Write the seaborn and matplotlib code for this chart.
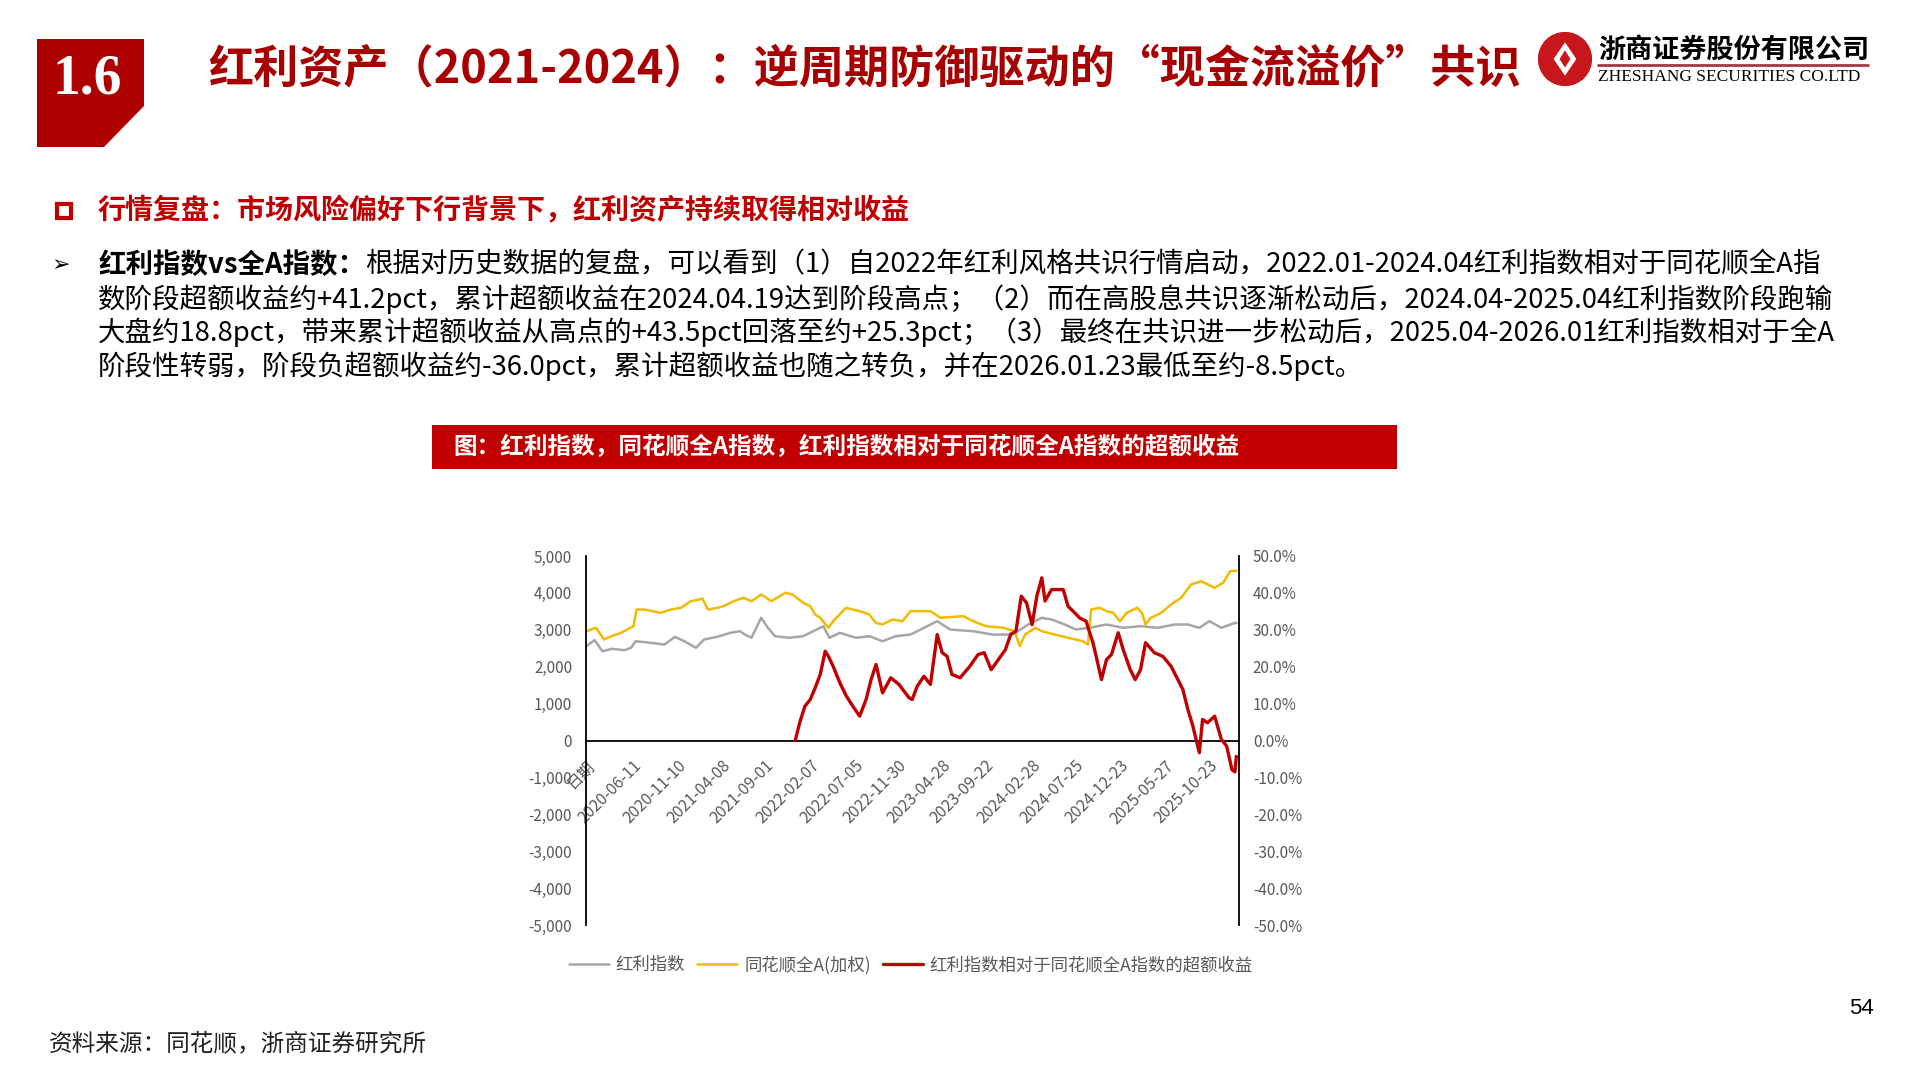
import numpy as np
import pandas as pd
import matplotlib
matplotlib.use('Agg')
import matplotlib.pyplot as plt
import matplotlib.patches as mpatches
from matplotlib.lines import Line2D
from matplotlib.ticker import FuncFormatter
import seaborn as sns

sns.set_theme(style='white')
plt.rcParams['font.family'] = ['Noto Sans CJK SC', 'DejaVu Sans']
plt.rcParams['axes.unicode_minus'] = False

# ---------------- data ----------------
gray_dates = ['2020-01-02', '2020-01-31', '2020-02-27', '2020-03-30', '2020-05-12', '2020-06-03',
              '2020-06-19', '2020-08-10', '2020-09-25', '2020-10-30', '2020-12-02', '2021-01-10',
              '2021-02-07', '2021-03-24', '2021-05-07', '2021-06-09', '2021-06-26', '2021-07-18',
              '2021-08-20', '2021-09-12', '2021-10-06', '2021-11-23', '2022-01-10', '2022-02-25',
              '2022-03-20', '2022-04-09', '2022-05-15', '2022-07-09', '2022-08-23', '2022-10-07',
              '2022-11-21', '2023-01-11', '2023-04-11', '2023-05-25', '2023-08-11', '2023-10-18',
              '2023-12-05', '2024-01-10', '2024-02-15', '2024-04-01', '2024-05-04', '2024-06-18',
              '2024-07-26', '2024-09-11', '2024-11-07', '2025-01-03', '2025-03-03', '2025-04-30',
              '2025-06-27', '2025-08-11', '2025-09-19', '2025-10-23', '2025-12-03', '2026-01-19',
              '2026-01-23']
gray_vals = [2550, 2720, 2420, 2485, 2447, 2512,
             2690, 2647, 2600, 2810, 2690, 2512,
             2737, 2810, 2918, 2962, 2870, 2783,
             3325, 3054, 2827, 2783, 2827, 3008,
             3098, 2783, 2918, 2783, 2827, 2690,
             2827, 2873, 3234, 3008, 2962, 2870,
             2870, 2962, 3144, 3325, 3280, 3144,
             3008, 3054, 3144, 3054, 3098, 3054,
             3144, 3144, 3054, 3234, 3054, 3190,
             3180]

yellow_dates = ['2020-01-02', '2020-02-05', '2020-03-03', '2020-03-29', '2020-04-30', '2020-06-01',
                '2020-06-12', '2020-06-22', '2020-07-18', '2020-09-12', '2020-10-17', '2020-11-20',
                '2020-12-24', '2021-01-21', '2021-02-01', '2021-02-20', '2021-03-24', '2021-04-15',
                '2021-05-18', '2021-06-20', '2021-07-18', '2021-08-20', '2021-09-24', '2021-11-10',
                '2021-12-05', '2022-01-10', '2022-02-03', '2022-02-20', '2022-03-09', '2022-04-06',
                '2022-04-22', '2022-06-05', '2022-07-21', '2022-08-23', '2022-09-14', '2022-10-07',
                '2022-11-10', '2022-12-14', '2023-01-10', '2023-03-19', '2023-04-22', '2023-07-09',
                '2023-08-11', '2023-09-24', '2023-11-23', '2023-12-30', '2024-01-17', '2024-02-04',
                '2024-03-10', '2024-04-01', '2024-05-16', '2024-06-29', '2024-07-26', '2024-08-19',
                '2024-09-05', '2024-09-16', '2024-10-15', '2024-11-07', '2024-11-30', '2024-12-23',
                '2025-01-15', '2025-02-19', '2025-03-08', '2025-03-20', '2025-04-07', '2025-05-12',
                '2025-06-15', '2025-07-19', '2025-08-22', '2025-09-25', '2025-11-10', '2025-12-09',
                '2026-01-02', '2026-01-23']
yellow_vals = [2962, 3054, 2737, 2827, 2918, 3054,
               3100, 3550, 3550, 3460, 3550, 3596,
               3775, 3820, 3850, 3550, 3596, 3640,
               3775, 3867, 3775, 3957, 3775, 4003,
               3957, 3732, 3640, 3415, 3325, 3054,
               3234, 3596, 3505, 3415, 3190, 3144,
               3280, 3234, 3505, 3505, 3325, 3370,
               3234, 3098, 3054, 2962, 2556, 2870,
               3054, 2962, 2870, 2783, 2737, 2690,
               2600, 3550, 3596, 3505, 3460, 3234,
               3460, 3596, 3460, 3144, 3325, 3460,
               3686, 3867, 4228, 4317, 4137, 4273,
               4588, 4600]

red_dates = ['2021-12-14', '2021-12-29', '2022-01-16', '2022-02-03', '2022-02-20', '2022-03-09',
             '2022-03-26', '2022-04-06', '2022-04-22', '2022-05-15', '2022-06-06', '2022-06-28',
             '2022-07-21', '2022-08-12', '2022-08-29', '2022-09-15', '2022-10-07', '2022-11-04',
             '2022-12-02', '2023-01-05', '2023-01-16', '2023-02-02', '2023-02-25', '2023-03-19',
             '2023-04-11', '2023-04-28', '2023-05-15', '2023-05-31', '2023-06-28', '2023-07-31',
             '2023-08-28', '2023-09-18', '2023-10-12', '2023-11-05', '2023-11-29', '2023-12-17',
             '2024-01-04', '2024-01-22', '2024-02-09', '2024-02-28', '2024-03-15', '2024-04-01',
             '2024-04-12', '2024-05-04', '2024-06-13', '2024-06-29', '2024-07-22', '2024-08-08',
             '2024-08-30', '2024-09-11', '2024-09-22', '2024-10-03', '2024-10-21', '2024-11-07',
             '2024-11-24', '2024-12-17', '2025-01-03', '2025-01-27', '2025-02-13', '2025-03-03',
             '2025-03-20', '2025-04-19', '2025-05-18', '2025-06-15', '2025-07-08', '2025-07-25',
             '2025-08-11', '2025-08-28', '2025-09-19', '2025-09-30', '2025-10-17', '2025-11-10',
             '2025-12-03', '2025-12-21', '2026-01-08', '2026-01-18', '2026-01-23']
red_vals = [0.0, 4.8, 9.3, 11.1, 14.3, 17.9,
            24.2, 22.8, 20.1, 15.6, 12.0, 9.3,
            6.6, 11.1, 16.5, 20.6, 12.9, 17.0,
            15.2, 11.6, 11.1, 14.7, 17.4, 15.2,
            28.7, 23.8, 22.8, 17.9, 17.0, 20.1,
            23.3, 23.8, 19.2, 21.9, 24.6, 28.7,
            29.6, 39.1, 37.3, 31.4, 39.1, 44.1,
            37.8, 40.9, 40.9, 36.4, 34.6, 33.2,
            32.3, 29.2, 26.5, 22.8, 16.5, 21.9,
            23.3, 29.2, 24.6, 19.2, 16.5, 19.2,
            26.5, 23.8, 22.8, 20.1, 16.5, 13.8,
            8.4, 3.9, -3.3, 5.7, 4.8, 6.6,
            0.3, -1.5, -7.9, -8.5, -4.3]

tick_dates = ['2020-01-02', '2020-06-11', '2020-11-10', '2021-04-08', '2021-09-01', '2022-02-07',
              '2022-07-05', '2022-11-30', '2023-04-28', '2023-09-22', '2024-02-28', '2024-07-25',
              '2024-12-23', '2025-05-27', '2025-10-23']
tick_labels = ['日期', '2020-06-11', '2020-11-10', '2021-04-08', '2021-09-01', '2022-02-07',
               '2022-07-05', '2022-11-30', '2023-04-28', '2023-09-22', '2024-02-28', '2024-07-25',
               '2024-12-23', '2025-05-27', '2025-10-23']

series_names = ['红利指数', '同花顺全A(加权)', '红利指数相对于同花顺全A指数的超额收益']

title = '红利资产（2021-2024）：逆周期防御驱动的“现金流溢价”共识'
subtitle = '行情复盘：市场风险偏好下行背景下，红利资产持续取得相对收益'
body_bold = '红利指数vs全A指数：'
body_lines = [
    '根据对历史数据的复盘，可以看到（1）自2022年红利风格共识行情启动，2022.01-2024.04红利指数相对于同花顺全A指',
    '数阶段超额收益约+41.2pct，累计超额收益在2024.04.19达到阶段高点；（2）而在高股息共识逐渐松动后，2024.04-2025.04红利指数阶段跑输',
    '大盘约18.8pct，带来累计超额收益从高点的+43.5pct回落至约+25.3pct；（3）最终在共识进一步松动后，2025.04-2026.01红利指数相对于全A',
    '阶段性转弱，阶段负超额收益约-36.0pct，累计超额收益也随之转负，并在2026.01.23最低至约-8.5pct。',
]
caption = '图：红利指数，同花顺全A指数，红利指数相对于同花顺全A指数的超额收益'
source = '资料来源：同花顺，浙商证券研究所'
page_no = '54'
company_cn = '浙商证券股份有限公司'
company_en = 'ZHESHANG SECURITIES CO.LTD'

# ---------------- figure ----------------
W, H = 1920, 1080
def fx(x): return x / W
def fy(y): return 1 - y / H

DARK_RED = '#A80000'
RED = '#C00000'
GRAY_TXT = '#595959'

fig = plt.figure(figsize=(19.2, 10.8), dpi=100)
fig.patch.set_facecolor('white')

# section box "1.6"
box = mpatches.Polygon([(fx(37), fy(39)), (fx(144), fy(39)), (fx(144), fy(106)),
                        (fx(104), fy(147)), (fx(37), fy(147))], closed=True,
                       transform=fig.transFigure, facecolor='#AE0000', edgecolor='none')
fig.patches.append(box)
fig.text(fx(87), fy(80), '1.6', fontsize=40, fontweight='bold', color='white',
         family=['Liberation Serif', 'DejaVu Serif'], ha='center', va='center')

fig.text(fx(208), fy(70), title, fontsize=32.5, fontweight='bold', color=DARK_RED,
         ha='left', va='center')

# logo
logo_ax = fig.add_axes([fx(1538), fy(86), 54 / W, 54 / H])
logo_ax.set_xlim(-1, 1); logo_ax.set_ylim(-1, 1); logo_ax.axis('off')
logo_ax.add_patch(mpatches.Circle((0, 0), 0.98, color='#C8161D'))
logo_ax.add_patch(mpatches.Polygon([(0, 0.62), (0.42, 0), (0, -0.62), (-0.42, 0)], closed=True,
                                   facecolor='white', edgecolor='none'))
logo_ax.add_patch(mpatches.Polygon([(0, 0.32), (0.2, 0), (0, -0.32), (-0.2, 0)], closed=True,
                                   facecolor='#C8161D', edgecolor='none'))
fig.text(fx(1598), fy(51), company_cn, fontsize=19.5, fontweight='bold', color='black',
         ha='left', va='center')
fig.add_artist(Line2D([fx(1598), fx(1868)], [fy(65), fy(65)], transform=fig.transFigure,
                      color='#A03A3F', lw=2))
fig.text(fx(1598), fy(77), company_en, fontsize=12.5, color='black',
         family=['Liberation Serif', 'DejaVu Serif'], ha='left', va='center')

# subtitle
fig.patches.append(mpatches.Rectangle((fx(57), fy(218)), 14 / W, 14 / H, transform=fig.transFigure,
                                      facecolor='none', edgecolor=RED, lw=3))
fig.text(fx(98), fy(211), subtitle, fontsize=20.2, fontweight='bold', color=RED,
         ha='left', va='center')

# body
BODY_FS = 19.8
fig.text(fx(52), fy(265), '➢', fontsize=16, color='black', ha='left', va='center')
body_y = [265, 299, 332, 366]
renderer = fig.canvas.get_renderer()
tb = fig.text(fx(98), fy(body_y[0]), body_bold, fontsize=BODY_FS, fontweight='bold', color='black',
              ha='left', va='center')
bb = tb.get_window_extent(renderer)
fig.text(bb.x1 / W, fy(body_y[0]), body_lines[0], fontsize=BODY_FS, color='black', ha='left', va='center')
for yy, line in zip(body_y[1:], body_lines[1:]):
    fig.text(fx(98), fy(yy), line, fontsize=BODY_FS, color='black', ha='left', va='center')

# caption bar
fig.patches.append(mpatches.Rectangle((fx(432), fy(469)), (1397 - 432) / W, 44 / H,
                                      transform=fig.transFigure, facecolor=RED, edgecolor='none'))
fig.text(fx(453), fy(447), caption, fontsize=17, fontweight='bold', color='white',
         ha='left', va='center')

# ---------------- chart ----------------
ax = fig.add_axes([fx(586), fy(925), (1239 - 586) / W, (925 - 556) / H])
ax2 = ax.twinx()

df_g = pd.DataFrame({'date': pd.to_datetime(gray_dates), 'v': gray_vals})
df_y = pd.DataFrame({'date': pd.to_datetime(yellow_dates), 'v': yellow_vals})
df_r = pd.DataFrame({'date': pd.to_datetime(red_dates), 'v': red_vals})

sns.lineplot(data=df_g, x='date', y='v', ax=ax, color='#A6A6A6', lw=1.8, label=series_names[0], legend=False)
sns.lineplot(data=df_y, x='date', y='v', ax=ax, color='#F2BA00', lw=1.8, label=series_names[1], legend=False)
sns.lineplot(data=df_r, x='date', y='v', ax=ax2, color=RED, lw=2.4, label=series_names[2], legend=False)

# spines first (set_position resets ticks)
for s in ['top', 'right']:
    ax.spines[s].set_visible(False)
ax.spines['bottom'].set_position(('data', 0))
for s in ['left', 'bottom']:
    ax.spines[s].set_color('black'); ax.spines[s].set_linewidth(1.3)
for s in ['top', 'left', 'bottom']:
    ax2.spines[s].set_visible(False)
ax2.spines['right'].set_color('black'); ax2.spines['right'].set_linewidth(1.3)

ax.set_xlim(pd.Timestamp('2020-01-02'), pd.Timestamp('2026-02-01'))
ax.set_ylim(-5000, 5000)
ax2.set_ylim(-50, 50)
ax.set_yticks(np.arange(-5000, 5001, 1000))
ax2.set_yticks(np.arange(-50, 51, 10))
ax.yaxis.set_major_formatter(FuncFormatter(lambda v, p: f'{v:,.0f}'))
ax2.yaxis.set_major_formatter(FuncFormatter(lambda v, p: f'{v:.1f}%'))
ax.set_xlabel(''); ax.set_ylabel(''); ax2.set_ylabel(''); ax2.set_xlabel('')

ax.set_xticks(pd.to_datetime(tick_dates))
ax.set_xticklabels(tick_labels)
ax.tick_params(axis='x', length=0, pad=12, labelsize=11.5, labelcolor=GRAY_TXT, labelrotation=45)
for lab in ax.get_xticklabels():
    lab.set_horizontalalignment('right')
    lab.set_rotation_mode('anchor')
ax.tick_params(axis='y', length=0, pad=10, labelsize=11, labelcolor=GRAY_TXT)
ax2.tick_params(axis='y', length=0, pad=10, labelsize=11, labelcolor=GRAY_TXT)
ax.grid(False); ax2.grid(False)
ax.patch.set_alpha(0)

handles = list(ax.get_lines()[:2]) + list(ax2.get_lines()[:1])
fig.legend(handles, series_names, loc='center', bbox_to_anchor=(fx(911), fy(965)), ncol=3,
           frameon=False, fontsize=12.5, handlelength=2.3, columnspacing=0.7, handletextpad=0.4,
           labelcolor=GRAY_TXT)

# footer
fig.text(fx(49), fy(1044), source, fontsize=17, color='#222222', ha='left', va='center')
fig.text(fx(1861), fy(1009), page_no, fontsize=16, color='black', ha='center', va='center',
         family=['Liberation Sans', 'DejaVu Sans'])

fig.savefig('out.png', dpi=100, facecolor='white')
